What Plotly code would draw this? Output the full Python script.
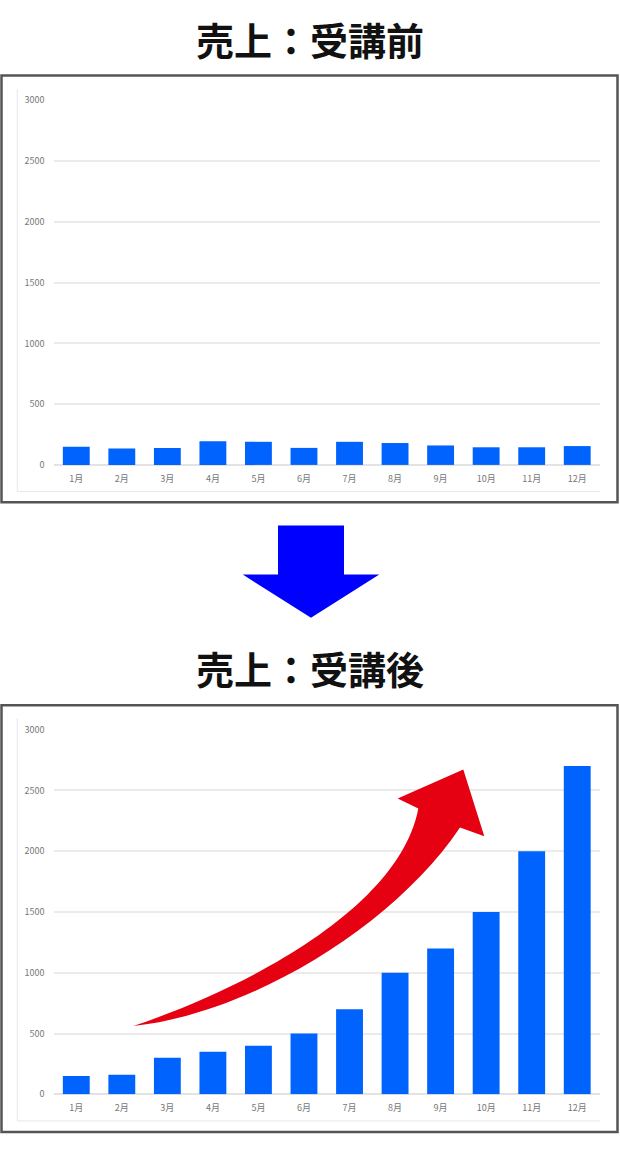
import plotly.graph_objects as go

W, H = 620, 1150

months = ["1月", "2月", "3月", "4月", "5月", "6月", "7月", "8月", "9月", "10月", "11月", "12月"]
sales_before = [150, 135, 140, 195, 190, 140, 190, 180, 160, 145, 145, 155]
sales_after = [150, 160, 300, 350, 400, 500, 700, 1000, 1200, 1500, 2000, 2700]
y_ticks = [0, 500, 1000, 1500, 2000, 2500, 3000]

titles = ["売上：受講前", "売上：受講後"]

BAR_COLOR = "#0063fe"
GRID = "#ebebeb"
TICK_FONT = dict(family="Noto Sans CJK JP", size=9, color="#777777")

# the photographed page comes out slightly squeezed vertically (about 6px of white top and bottom),
# so layout positions measured on the picture are mapped back through this
Y_OFF = 5.94
Y_SCALE = 1150 / 1162


def px(x):
    return x / W


def py(y):
    return 1 - ((y - Y_OFF) / Y_SCALE) / H


def pt(x, y):
    return "%.5f,%.5f" % (px(x), py(y))


fig = go.Figure()

fig.add_trace(go.Bar(x=months, y=sales_before, marker=dict(color=BAR_COLOR, line=dict(width=0)),
                     xaxis="x", yaxis="y", showlegend=False, hoverinfo="x+y"))
fig.add_trace(go.Bar(x=months, y=sales_after, marker=dict(color=BAR_COLOR, line=dict(width=0)),
                     xaxis="x2", yaxis="y2", showlegend=False, hoverinfo="x+y"))

xaxis_common = dict(
    domain=[px(53.5), px(600)],
    showgrid=False, zeroline=False, showline=False, ticks="",
    tickfont=TICK_FONT, ticklabelstandoff=7, fixedrange=True,
)
yaxis_common = dict(
    range=[0, 3000], tickvals=y_ticks, showgrid=True, gridcolor=GRID, gridwidth=2,
    zeroline=True, zerolinecolor="#e3e3e3", zerolinewidth=2, showline=False, ticks="",
    tickfont=TICK_FONT, ticklabelstandoff=8, fixedrange=True,
)

fig.update_layout(
    width=W, height=H,
    margin=dict(l=0, r=0, t=0, b=0),
    paper_bgcolor="white", plot_bgcolor="white",
    bargap=0.41,
    xaxis=dict(xaxis_common, anchor="y"),
    yaxis=dict(yaxis_common, domain=[py(464.3), py(99.3)], anchor="x"),
    xaxis2=dict(xaxis_common, anchor="y2"),
    yaxis2=dict(yaxis_common, domain=[py(1094.3), py(729.3)], anchor="x2"),
)

# headings
for text, yc in zip(titles, [37.5, 667]):
    fig.add_annotation(text="<b>%s</b>" % text, x=0.5, y=py(yc), xref="paper", yref="paper",
                       showarrow=False, xanchor="center", yanchor="middle",
                       font=dict(family="Noto Sans CJK JP", size=38, color="#111111"))

# chart frames (outer dark border + faint inner border)
for top, bottom, inner_top, inner_bottom in [(74.5, 501.7, 88, 491), (705, 1132, 718, 1121)]:
    fig.add_shape(type="rect", xref="paper", yref="paper",
                  x0=px(1.5), x1=px(617.5), y0=py(bottom), y1=py(top),
                  line=dict(color="#555555", width=2.5), layer="above")
    fig.add_shape(type="path", xref="paper", yref="paper",
                  path="M%s L%s L%s" % (pt(17.3, inner_top), pt(17.3, inner_bottom), pt(600, inner_bottom)),
                  line=dict(color="#e6e6e6", width=1), layer="below")

# blue down arrow between the charts
blue_path = "M%s L%s L%s L%s L%s L%s L%s Z" % (
    pt(278, 525), pt(344, 525), pt(344, 574), pt(379.3, 574),
    pt(311, 617.3), pt(242.7, 574), pt(278, 574))
fig.add_shape(type="path", xref="paper", yref="paper", path=blue_path,
              fillcolor="#0000ff", line=dict(width=0))

# red rising arrow over the second chart
red_path = "M%s C%s %s %s L%s L%s L%s L%s C%s %s %s Z" % (
    pt(133.3, 1026), pt(250, 986.7), pt(400, 906.7), pt(418.3, 808.3),
    pt(397.7, 798.3), pt(463.3, 769.3), pt(484.3, 836), pt(460, 827.3),
    pt(393.3, 926.7), pt(250, 1013.3), pt(133.3, 1026))
fig.add_shape(type="path", xref="paper", yref="paper", path=red_path,
              fillcolor="#e50012", line=dict(width=0), layer="above")

# page has a default 8px body margin; drop it so the figure fills the window exactly
fig.write_html("out.html", config={"displayModeBar": False},
               post_script="document.body.style.margin='0';document.body.style.overflow='hidden';")
